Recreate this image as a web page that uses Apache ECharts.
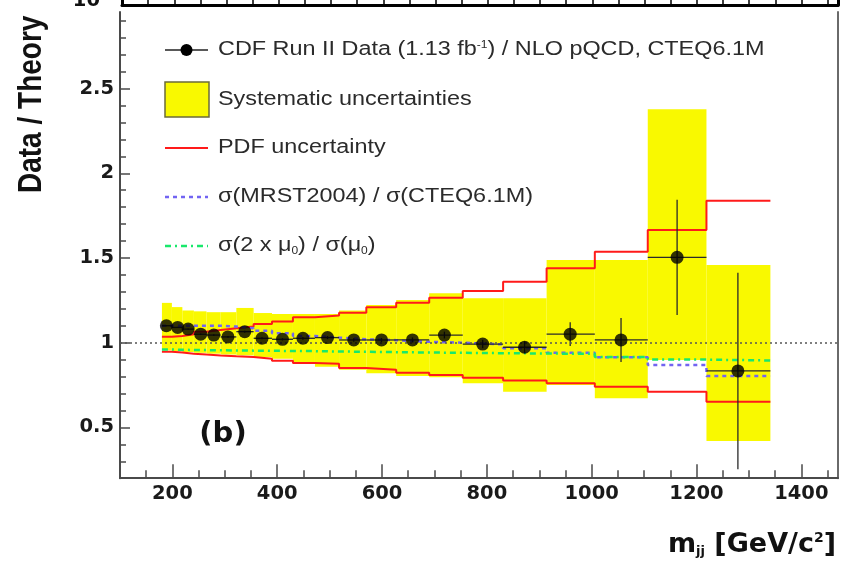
<!DOCTYPE html>
<html>
<head>
<meta charset="utf-8">
<script src="https://cdn.jsdelivr.net/npm/echarts@6/dist/echarts.min.js"></script>
<style>
  html, body { margin: 0; padding: 0; background: #fff; }
  #chart { width: 848px; height: 565px; }
</style>
</head>
<body>
<div id="chart"></div>
<script>
// Dijet mass bins (GeV/c^2): 21 bins, edges listed low to high
const binEdges = [180, 199, 219, 241, 265, 292, 322, 355, 390, 430, 472, 518, 570, 627, 690, 754, 831, 914, 1006, 1107, 1219, 1341];
// Where each data point sits inside its bin
const massPoints = [188.5, 210, 230, 254, 279, 306, 338, 371, 410, 449, 496, 546, 599, 658, 719, 792, 872, 959, 1056, 1163, 1279];
// Data / NLO pQCD (CTEQ6.1M) with statistical errors
const dataRatio = [1.10, 1.09, 1.08, 1.05, 1.045, 1.034, 1.065, 1.026, 1.02, 1.026, 1.03, 1.016, 1.016, 1.016, 1.045, 0.992, 0.973, 1.05, 1.016, 1.504, 0.833];
const statErr = [0.003, 0.003, 0.004, 0.004, 0.005, 0.005, 0.006, 0.006, 0.007, 0.008, 0.009, 0.010, 0.012, 0.015, 0.02, 0.025, 0.035, 0.07, 0.13, 0.34, 0.58];
// Systematic uncertainty band (upper / lower edge of the ratio)
const sysHigh = [1.235, 1.21, 1.19, 1.185, 1.18, 1.18, 1.205, 1.175, 1.17, 1.17, 1.17, 1.19, 1.222, 1.252, 1.292, 1.262, 1.262, 1.488, 1.488, 2.378, 1.459];
const sysLow = [0.955, 0.95, 0.945, 0.94, 0.935, 0.93, 0.925, 0.915, 0.905, 0.88, 0.858, 0.84, 0.82, 0.803, 0.796, 0.76, 0.711, 0.75, 0.672, 0.898, 0.42];
// PDF uncertainty envelope
const pdfHigh = [1.035, 1.04, 1.05, 1.065, 1.075, 1.085, 1.095, 1.11, 1.125, 1.15, 1.16, 1.177, 1.209, 1.235, 1.265, 1.305, 1.36, 1.44, 1.537, 1.665, 1.838];
const pdfLow = [0.947, 0.942, 0.935, 0.93, 0.925, 0.92, 0.915, 0.905, 0.893, 0.88, 0.875, 0.85, 0.84, 0.823, 0.809, 0.793, 0.776, 0.76, 0.74, 0.711, 0.652];
// sigma(MRST2004) / sigma(CTEQ6.1M)
const mrstRatio = [1.10, 1.10, 1.10, 1.10, 1.10, 1.095, 1.085, 1.07, 1.055, 1.04, 1.03, 1.02, 1.015, 1.005, 1.0, 0.99, 0.967, 0.94, 0.914, 0.868, 0.803];
// sigma(2 x mu0) / sigma(mu0)
const scaleRatio = [0.96, 0.958, 0.957, 0.956, 0.955, 0.954, 0.953, 0.952, 0.951, 0.95, 0.948, 0.946, 0.944, 0.942, 0.94, 0.938, 0.936, 0.934, 0.915, 0.9, 0.895];

// Axis ticks
const xMajor = [200, 400, 600, 800, 1000, 1200, 1400];
const xMinor = [];
for (let v = 150; v <= 1450; v += 50) if (v % 200 !== 0) xMinor.push(v);
const xAll = [];
for (let v = 150; v <= 1450; v += 50) xAll.push(v);
const yMajor = [0.5, 1, 1.5, 2, 2.5];
const yMinor = [0.2, 0.3, 0.4, 0.6, 0.7, 0.8, 0.9, 1.1, 1.2, 1.3, 1.4, 1.6, 1.7, 1.8, 1.9, 2.1, 2.2, 2.3, 2.4, 2.6, 2.7, 2.8, 2.9];

// Histogram outline points for step lines
function stepData(vals) {
  const out = vals.map((v, i) => [binEdges[i], v]);
  out.push([binEdges[binEdges.length - 1], vals[vals.length - 1]]);
  return out;
}
const bandData = sysHigh.map((h, i) => [binEdges[i], binEdges[i + 1], sysLow[i], h]);
const pointData = dataRatio.map((r, i) => [massPoints[i], r, statErr[i], binEdges[i], binEdges[i + 1]]);

const YELLOW = '#f9f900';
const RED = '#ff1a1a';
const VIOLET = '#7264f2';
const GREEN = '#19e86c';
const AXIS = '#4a4a4a';
const TICK_FONT = { fontFamily: 'DejaVu Sans', fontWeight: 'bold', fontSize: 19.5, color: '#1a1a1a' };

const chart = echarts.init(document.getElementById('chart'), null, { renderer: 'canvas' });

// Legend typography: Helvetica-like face, widened
const legendFont = '19.5px "Liberation Sans"';
const legendText = '#2b2b2b';
const LSX = 1.2;
const LX0 = 165, LX1 = 208, TX = 218;
function legendLabel(y, text, rich) {
  return {
    type: 'text', x: TX, y: y, scaleX: LSX,
    style: { text: text, font: legendFont, fill: legendText, verticalAlign: 'middle', rich: rich || {} }
  };
}

const option = {
  animation: false,
  backgroundColor: '#fff',
  grid: [
    { left: 120, right: 10, top: 12, bottom: 86.8 },
    { left: 122, right: 10, top: 0, height: 5 }
  ],
  xAxis: [
    {
      gridIndex: 0, type: 'value', min: 100, max: 1470,
      axisLine: { show: true, lineStyle: { color: AXIS, width: 2 } },
      axisTick: { show: true, inside: true, length: 14, customValues: xMajor, lineStyle: { color: AXIS, width: 1.5 } },
      axisLabel: Object.assign({ customValues: xMajor, margin: 6, formatter: v => String(v) }, TICK_FONT),
      splitLine: { show: false }
    },
    {
      gridIndex: 0, type: 'value', min: 100, max: 1470, position: 'bottom',
      axisLine: { show: false },
      axisTick: { show: true, inside: true, length: 8, customValues: xMinor, lineStyle: { color: AXIS, width: 1.5 } },
      axisLabel: { show: false },
      splitLine: { show: false }
    },
    {
      gridIndex: 1, type: 'value', min: 100, max: 1470, position: 'bottom',
      axisLine: { show: true, lineStyle: { color: '#000', width: 3 } },
      axisTick: { show: true, inside: true, length: 6, customValues: xAll, lineStyle: { color: '#000', width: 1.5 } },
      axisLabel: { show: false },
      splitLine: { show: false }
    }
  ],
  yAxis: [
    {
      gridIndex: 0, type: 'value', min: 0.2, max: 2.952, position: 'left',
      axisLine: { show: true, lineStyle: { color: AXIS, width: 2 } },
      axisTick: { show: true, inside: true, length: 10, customValues: yMajor, lineStyle: { color: AXIS, width: 1.5 } },
      axisLabel: Object.assign({ customValues: yMajor, margin: 6, formatter: v => String(v) }, TICK_FONT),
      splitLine: { show: false }
    },
    {
      gridIndex: 0, type: 'value', min: 0.2, max: 2.952, position: 'left', offset: 0,
      axisLine: { show: false },
      axisTick: { show: true, inside: true, length: 6, customValues: yMinor, lineStyle: { color: AXIS, width: 1.5 } },
      axisLabel: { show: false },
      splitLine: { show: false }
    },
    {
      gridIndex: 0, type: 'value', min: 0.2, max: 2.952, position: 'right',
      axisLine: { show: true, lineStyle: { color: '#6a6a6a', width: 2 } },
      axisTick: { show: false }, axisLabel: { show: false }, splitLine: { show: false }
    },
    {
      gridIndex: 1, type: 'value', min: 0, max: 1, position: 'left',
      axisLine: { show: true, lineStyle: { color: '#000', width: 3 } },
      axisTick: { show: false }, axisLabel: { show: false }, splitLine: { show: false }
    },
    {
      gridIndex: 1, type: 'value', min: 0, max: 1, position: 'right',
      axisLine: { show: true, lineStyle: { color: '#000', width: 3 } },
      axisTick: { show: false }, axisLabel: { show: false }, splitLine: { show: false }
    }
  ],
  series: [
    {
      name: 'Systematic uncertainties',
      type: 'custom', xAxisIndex: 0, yAxisIndex: 0, z: 1,
      data: bandData,
      renderItem: function (params, api) {
        const a = api.coord([api.value(0), api.value(3)]);
        const b = api.coord([api.value(1), api.value(2)]);
        return {
          type: 'rect',
          shape: { x: a[0], y: a[1], width: b[0] - a[0], height: b[1] - a[1] },
          style: { fill: YELLOW }
        };
      }
    },
    {
      name: 'reference', type: 'line', xAxisIndex: 0, yAxisIndex: 0, z: 2,
      data: [], symbol: 'none',
      markLine: {
        silent: true, symbol: 'none', label: { show: false },
        lineStyle: { color: '#555', type: [2, 3], width: 1.5 },
        data: [{ yAxis: 1 }]
      }
    },
    {
      name: 'PDF uncertainty', type: 'line', step: 'end', xAxisIndex: 0, yAxisIndex: 0, z: 3,
      data: stepData(pdfHigh), symbol: 'none',
      lineStyle: { color: RED, width: 2 }
    },
    {
      name: 'PDF uncertainty low', type: 'line', step: 'end', xAxisIndex: 0, yAxisIndex: 0, z: 3,
      data: stepData(pdfLow), symbol: 'none',
      lineStyle: { color: RED, width: 2 }
    },
    {
      name: 'MRST2004 / CTEQ6.1M', type: 'line', step: 'end', xAxisIndex: 0, yAxisIndex: 0, z: 3,
      data: stepData(mrstRatio), symbol: 'none',
      lineStyle: { color: VIOLET, width: 2.5, type: [4, 4] }
    },
    {
      name: 'Scale 2 mu0 / mu0', type: 'line', step: 'end', xAxisIndex: 0, yAxisIndex: 0, z: 3,
      data: stepData(scaleRatio), symbol: 'none',
      lineStyle: { color: GREEN, width: 2.5, type: [6, 4, 2, 4] }
    },
    {
      name: 'errors', type: 'custom', xAxisIndex: 0, yAxisIndex: 0, z: 4,
      data: pointData,
      renderItem: function (params, api) {
        const x = api.value(0), y = api.value(1), e = api.value(2);
        const l = api.coord([api.value(3), y]);
        const r = api.coord([api.value(4), y]);
        const top = api.coord([x, y + e]);
        const bot = api.coord([x, y - e]);
        const st = { stroke: '#2a2a2a', lineWidth: 1.3 };
        return {
          type: 'group',
          children: [
            { type: 'line', shape: { x1: l[0], y1: l[1], x2: r[0], y2: r[1] }, style: st },
            { type: 'line', shape: { x1: top[0], y1: top[1], x2: bot[0], y2: bot[1] }, style: st }
          ]
        };
      }
    },
    {
      name: 'CDF Run II Data', type: 'scatter', xAxisIndex: 0, yAxisIndex: 0, z: 5,
      data: pointData.map(p => [p[0], p[1]]),
      symbol: 'circle', symbolSize: 13,
      itemStyle: { color: '#000' }
    }
  ],
  graphic: [
    // Legend
    { type: 'line', shape: { x1: LX0, y1: 50, x2: LX1, y2: 50 }, style: { stroke: '#222', lineWidth: 1.5 } },
    { type: 'circle', shape: { cx: (LX0 + LX1) / 2, cy: 50, r: 6 }, style: { fill: '#000' } },
    legendLabel(50, 'CDF Run II Data (1.13 fb{sup|-1}) / NLO pQCD, CTEQ6.1M',
      { sup: { fontSize: 10, fontFamily: 'Liberation Sans', verticalAlign: 'top', fill: legendText } }),
    { type: 'rect', shape: { x: LX0, y: 82, width: LX1 - LX0 + 1, height: 35 }, style: { fill: YELLOW, stroke: '#6b6b3a', lineWidth: 1.5 } },
    legendLabel(100, 'Systematic uncertainties'),
    { type: 'line', shape: { x1: LX0, y1: 148, x2: LX1, y2: 148 }, style: { stroke: RED, lineWidth: 2 } },
    legendLabel(148, 'PDF uncertainty'),
    { type: 'line', shape: { x1: LX0, y1: 197, x2: LX1, y2: 197 }, style: { stroke: VIOLET, lineWidth: 2.5, lineDash: [4, 4] } },
    legendLabel(197, 'σ(MRST2004) / σ(CTEQ6.1M)'),
    { type: 'line', shape: { x1: LX0, y1: 246, x2: LX1, y2: 246 }, style: { stroke: GREEN, lineWidth: 2.5, lineDash: [6, 4, 2, 4] } },
    legendLabel(246, 'σ(2 x μ{sub|0}) / σ(μ{sub|0})',
      { sub: { fontSize: 10, fontFamily: 'Liberation Sans', verticalAlign: 'bottom', fill: legendText } }),
    // Panel tag
    { type: 'text', x: 223, y: 434, style: { text: '(b)', font: 'bold 29px "DejaVu Sans"', fill: '#111', align: 'center', verticalAlign: 'middle' } },
    // Axis titles
    {
      type: 'text', x: 836, y: 545,
      style: {
        text: 'm{sub|jj} [GeV/c{sup|2}]',
        font: 'bold 27px "DejaVu Sans"', fill: '#111', align: 'right', verticalAlign: 'middle',
        rich: {
          sub: { fontSize: 13, fontWeight: 'bold', fontFamily: 'DejaVu Sans', verticalAlign: 'bottom', fill: '#111' },
          sup: { fontSize: 14, fontWeight: 'bold', fontFamily: 'DejaVu Sans', verticalAlign: 'top', fill: '#111' }
        }
      }
    },
    {
      type: 'text', x: 32, y: 193, rotation: Math.PI / 2, scaleY: 1.2,
      style: { text: 'Data / Theory', font: 'bold 28px "Liberation Sans"', fill: '#111', align: 'left', verticalAlign: 'middle' }
    },
    // Tick label of the panel above, mostly outside the view
    { type: 'text', x: 100, y: 1, style: { text: '10', font: 'bold 19.5px "DejaVu Sans"', fill: '#111', align: 'right', verticalAlign: 'middle' } },
    { type: 'text', x: 101, y: -4, style: { text: '3', font: 'bold 12px "DejaVu Sans"', fill: '#111', align: 'left', verticalAlign: 'middle' } }
  ]
};

chart.setOption(option);
</script>
</body>
</html>
